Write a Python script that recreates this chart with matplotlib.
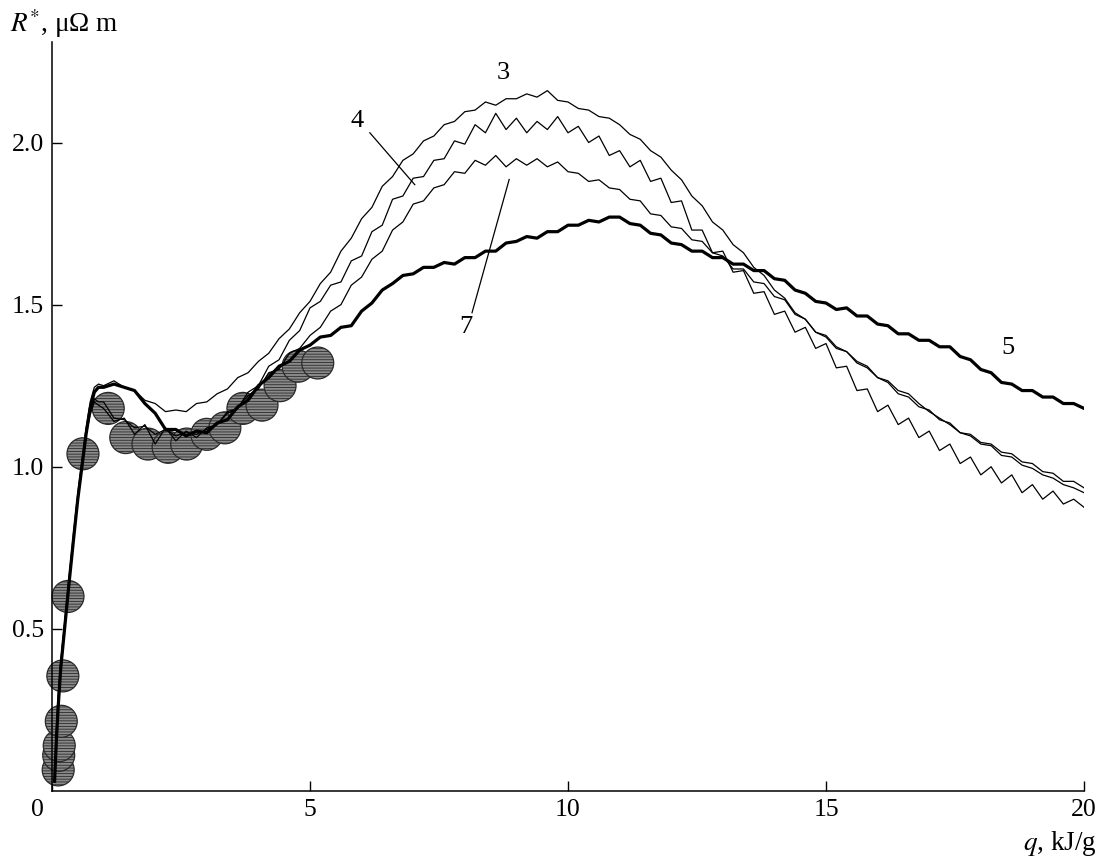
import matplotlib
matplotlib.use('Agg')
import matplotlib.pyplot as plt
import matplotlib.transforms as mtransforms
import numpy as np

plt.rcParams['font.family'] = ['Liberation Serif', 'DejaVu Serif']
plt.rcParams['mathtext.fontset'] = 'stix'
plt.rcParams['hatch.linewidth'] = 0.6

# начальный участок (общий для кривых)
q_rise = [0.05, 0.08, 0.12, 0.17, 0.25, 0.33, 0.42, 0.50, 0.58, 0.66, 0.74, 0.82, 0.90]
r3_rise = [0.03, 0.15, 0.28, 0.40, 0.53, 0.66, 0.80, 0.92, 1.02, 1.12, 1.20, 1.245, 1.255]
r4_rise = [0.05, 0.18, 0.30, 0.40, 0.52, 0.64, 0.78, 0.90, 1.00, 1.10, 1.16, 1.20, 1.19]
r7_rise = [0.04, 0.16, 0.27, 0.38, 0.52, 0.65, 0.79, 0.91, 1.01, 1.11, 1.17, 1.21, 1.20]
r5_rise = [0.03, 0.14, 0.26, 0.38, 0.51, 0.64, 0.78, 0.90, 1.00, 1.10, 1.18, 1.23, 1.245]

# основной участок, шаг 0.2 кДж/г от 1.0 до 20.0
q_main = np.round(np.arange(1.0, 20.001, 0.2), 1)

r3 = [1.25, 1.265, 1.245, 1.235, 1.205, 1.195, 1.17, 1.175, 1.17, 1.195,
      1.20, 1.225, 1.24, 1.275, 1.29, 1.325, 1.35, 1.395, 1.425, 1.475,
      1.51, 1.565, 1.60, 1.665, 1.705, 1.765, 1.80, 1.865, 1.895, 1.945,
      1.965, 2.005, 2.02, 2.055, 2.065, 2.095, 2.10, 2.125, 2.115, 2.135,
      2.135, 2.15, 2.14, 2.16, 2.13, 2.125, 2.105, 2.10, 2.08, 2.075,
      2.055, 2.025, 2.01, 1.975, 1.955, 1.915, 1.885, 1.835, 1.805, 1.755,
      1.73, 1.685, 1.66, 1.615, 1.59, 1.545, 1.52, 1.475, 1.455, 1.415,
      1.40, 1.365, 1.355, 1.325, 1.31, 1.275, 1.26, 1.225, 1.215, 1.185,
      1.175, 1.145, 1.135, 1.105, 1.10, 1.075, 1.07, 1.045, 1.04, 1.015,
      1.01, 0.985, 0.98, 0.955, 0.955, 0.935]

r4 = [1.18, 1.14, 1.15, 1.10, 1.13, 1.07, 1.12, 1.08, 1.11, 1.09,
      1.12, 1.13, 1.17, 1.18, 1.23, 1.25, 1.31, 1.33, 1.39, 1.42,
      1.49, 1.51, 1.56, 1.57, 1.635, 1.65, 1.725, 1.745, 1.825, 1.835,
      1.89, 1.895, 1.945, 1.95, 2.005, 1.995, 2.055, 2.03, 2.09, 2.04,
      2.075, 2.03, 2.065, 2.04, 2.08, 2.03, 2.05, 2.00, 2.02, 1.96,
      1.975, 1.925, 1.945, 1.88, 1.89, 1.815, 1.82, 1.73, 1.73, 1.66,
      1.665, 1.60, 1.605, 1.535, 1.54, 1.47, 1.48, 1.415, 1.43, 1.365,
      1.38, 1.305, 1.31, 1.235, 1.24, 1.17, 1.19, 1.13, 1.15, 1.09,
      1.11, 1.05, 1.07, 1.01, 1.03, 0.975, 1.00, 0.95, 0.975, 0.92,
      0.945, 0.90, 0.925, 0.885, 0.90, 0.875]

r7 = [1.20, 1.15, 1.145, 1.12, 1.125, 1.10, 1.115, 1.095, 1.105, 1.10,
      1.115, 1.13, 1.165, 1.18, 1.22, 1.24, 1.29, 1.30, 1.35, 1.365,
      1.405, 1.43, 1.48, 1.50, 1.56, 1.585, 1.64, 1.665, 1.73, 1.755,
      1.81, 1.82, 1.86, 1.87, 1.91, 1.905, 1.945, 1.93, 1.96, 1.925,
      1.95, 1.93, 1.95, 1.925, 1.94, 1.91, 1.905, 1.88, 1.885, 1.86,
      1.855, 1.825, 1.82, 1.78, 1.775, 1.74, 1.735, 1.70, 1.695, 1.66,
      1.65, 1.61, 1.61, 1.57, 1.565, 1.525, 1.515, 1.47, 1.455, 1.415,
      1.405, 1.37, 1.355, 1.32, 1.305, 1.275, 1.265, 1.235, 1.225, 1.195,
      1.17, 1.15, 1.13, 1.105, 1.095, 1.07, 1.065, 1.035, 1.03, 1.005,
      0.995, 0.975, 0.965, 0.945, 0.935, 0.92]

r5 = [1.245, 1.255, 1.245, 1.235, 1.195, 1.165, 1.115, 1.115, 1.095, 1.11,
      1.105, 1.135, 1.145, 1.185, 1.205, 1.25, 1.275, 1.31, 1.325, 1.36,
      1.375, 1.40, 1.405, 1.43, 1.435, 1.48, 1.505, 1.545, 1.565, 1.59,
      1.595, 1.615, 1.615, 1.63, 1.625, 1.645, 1.645, 1.665, 1.665, 1.69,
      1.695, 1.71, 1.705, 1.725, 1.725, 1.745, 1.745, 1.76, 1.755, 1.77,
      1.77, 1.75, 1.745, 1.72, 1.715, 1.69, 1.685, 1.665, 1.665, 1.645,
      1.645, 1.625, 1.625, 1.605, 1.605, 1.58, 1.575, 1.545, 1.535, 1.51,
      1.505, 1.485, 1.49, 1.465, 1.465, 1.44, 1.435, 1.41, 1.41, 1.39,
      1.39, 1.37, 1.37, 1.34, 1.33, 1.30, 1.29, 1.26, 1.255, 1.235,
      1.235, 1.215, 1.215, 1.195, 1.195, 1.18]

# расчётные точки (кружки)
circ_q = [0.12, 0.13, 0.14, 0.18, 0.21, 0.31, 0.60, 1.09, 1.43, 1.86,
          2.25, 2.61, 3.00, 3.35, 3.70, 4.07, 4.42, 4.77, 5.15]
circ_r = [0.065, 0.11, 0.14, 0.215, 0.355, 0.60, 1.04, 1.18, 1.09, 1.07,
          1.06, 1.07, 1.10, 1.12, 1.18, 1.19, 1.25, 1.31, 1.32]

fig = plt.figure(figsize=(10.99, 8.56), dpi=100)
ax = fig.add_axes([52/1099, 65/856, 1032/1099, 749/856])

ax.scatter(circ_q, circ_r, s=23**2, facecolor='#8a8a8a', edgecolor='#2a2a2a',
           hatch='------', linewidth=0.9, zorder=2, clip_on=False)

def full(rise, main):
    return np.concatenate([q_rise, q_main]), np.concatenate([rise, main])

for rise, main, lw in [(r3_rise, r3, 0.9), (r4_rise, r4, 0.9),
                       (r7_rise, r7, 0.9), (r5_rise, r5, 2.3)]:
    x, y = full(rise, main)
    ax.plot(x, y, color='black', lw=lw, zorder=3)

ax.set_xlim(0, 20)
ax.set_ylim(0, 2.31)
ax.set_xticks([0, 5, 10, 15, 20])
ax.set_yticks([0.5, 1.0, 1.5, 2.0])
ax.set_yticklabels(['0.5', '1.0', '1.5', '2.0'])
ax.tick_params(direction='in', length=7, width=1, labelsize=18.5, pad=6)
lab0 = ax.get_xticklabels()[0]
lab0.set_transform(lab0.get_transform() +
                   mtransforms.ScaledTranslation(-15/100, 0, fig.dpi_scale_trans))
for s in ['top', 'right']:
    ax.spines[s].set_visible(False)
for s in ['left', 'bottom']:
    ax.spines[s].set_linewidth(1.1)

# подписи кривых
fs = 19
ax.text(8.74, 2.215, '3', fontsize=fs, ha='center', va='center')
ax.text(5.91, 2.065, '4', fontsize=fs, ha='center', va='center')
ax.plot([6.16, 7.03], [2.03, 1.87], color='black', lw=0.9)
ax.text(8.02, 1.43, '7', fontsize=fs, ha='center', va='center')
ax.plot([8.14, 8.86], [1.475, 1.886], color='black', lw=0.9)
ax.text(18.53, 1.367, '5', fontsize=fs, ha='center', va='center')

fig.text(10/1099, 1 - 24/856, r'$R^{*}$, μΩ m', fontsize=19.5, ha='left', va='center')
fig.text(1097/1099, 1 - 843/856, r'$q$, kJ/g', fontsize=19.5, ha='right', va='center')

fig.savefig('out.png', dpi=100, facecolor='white')
